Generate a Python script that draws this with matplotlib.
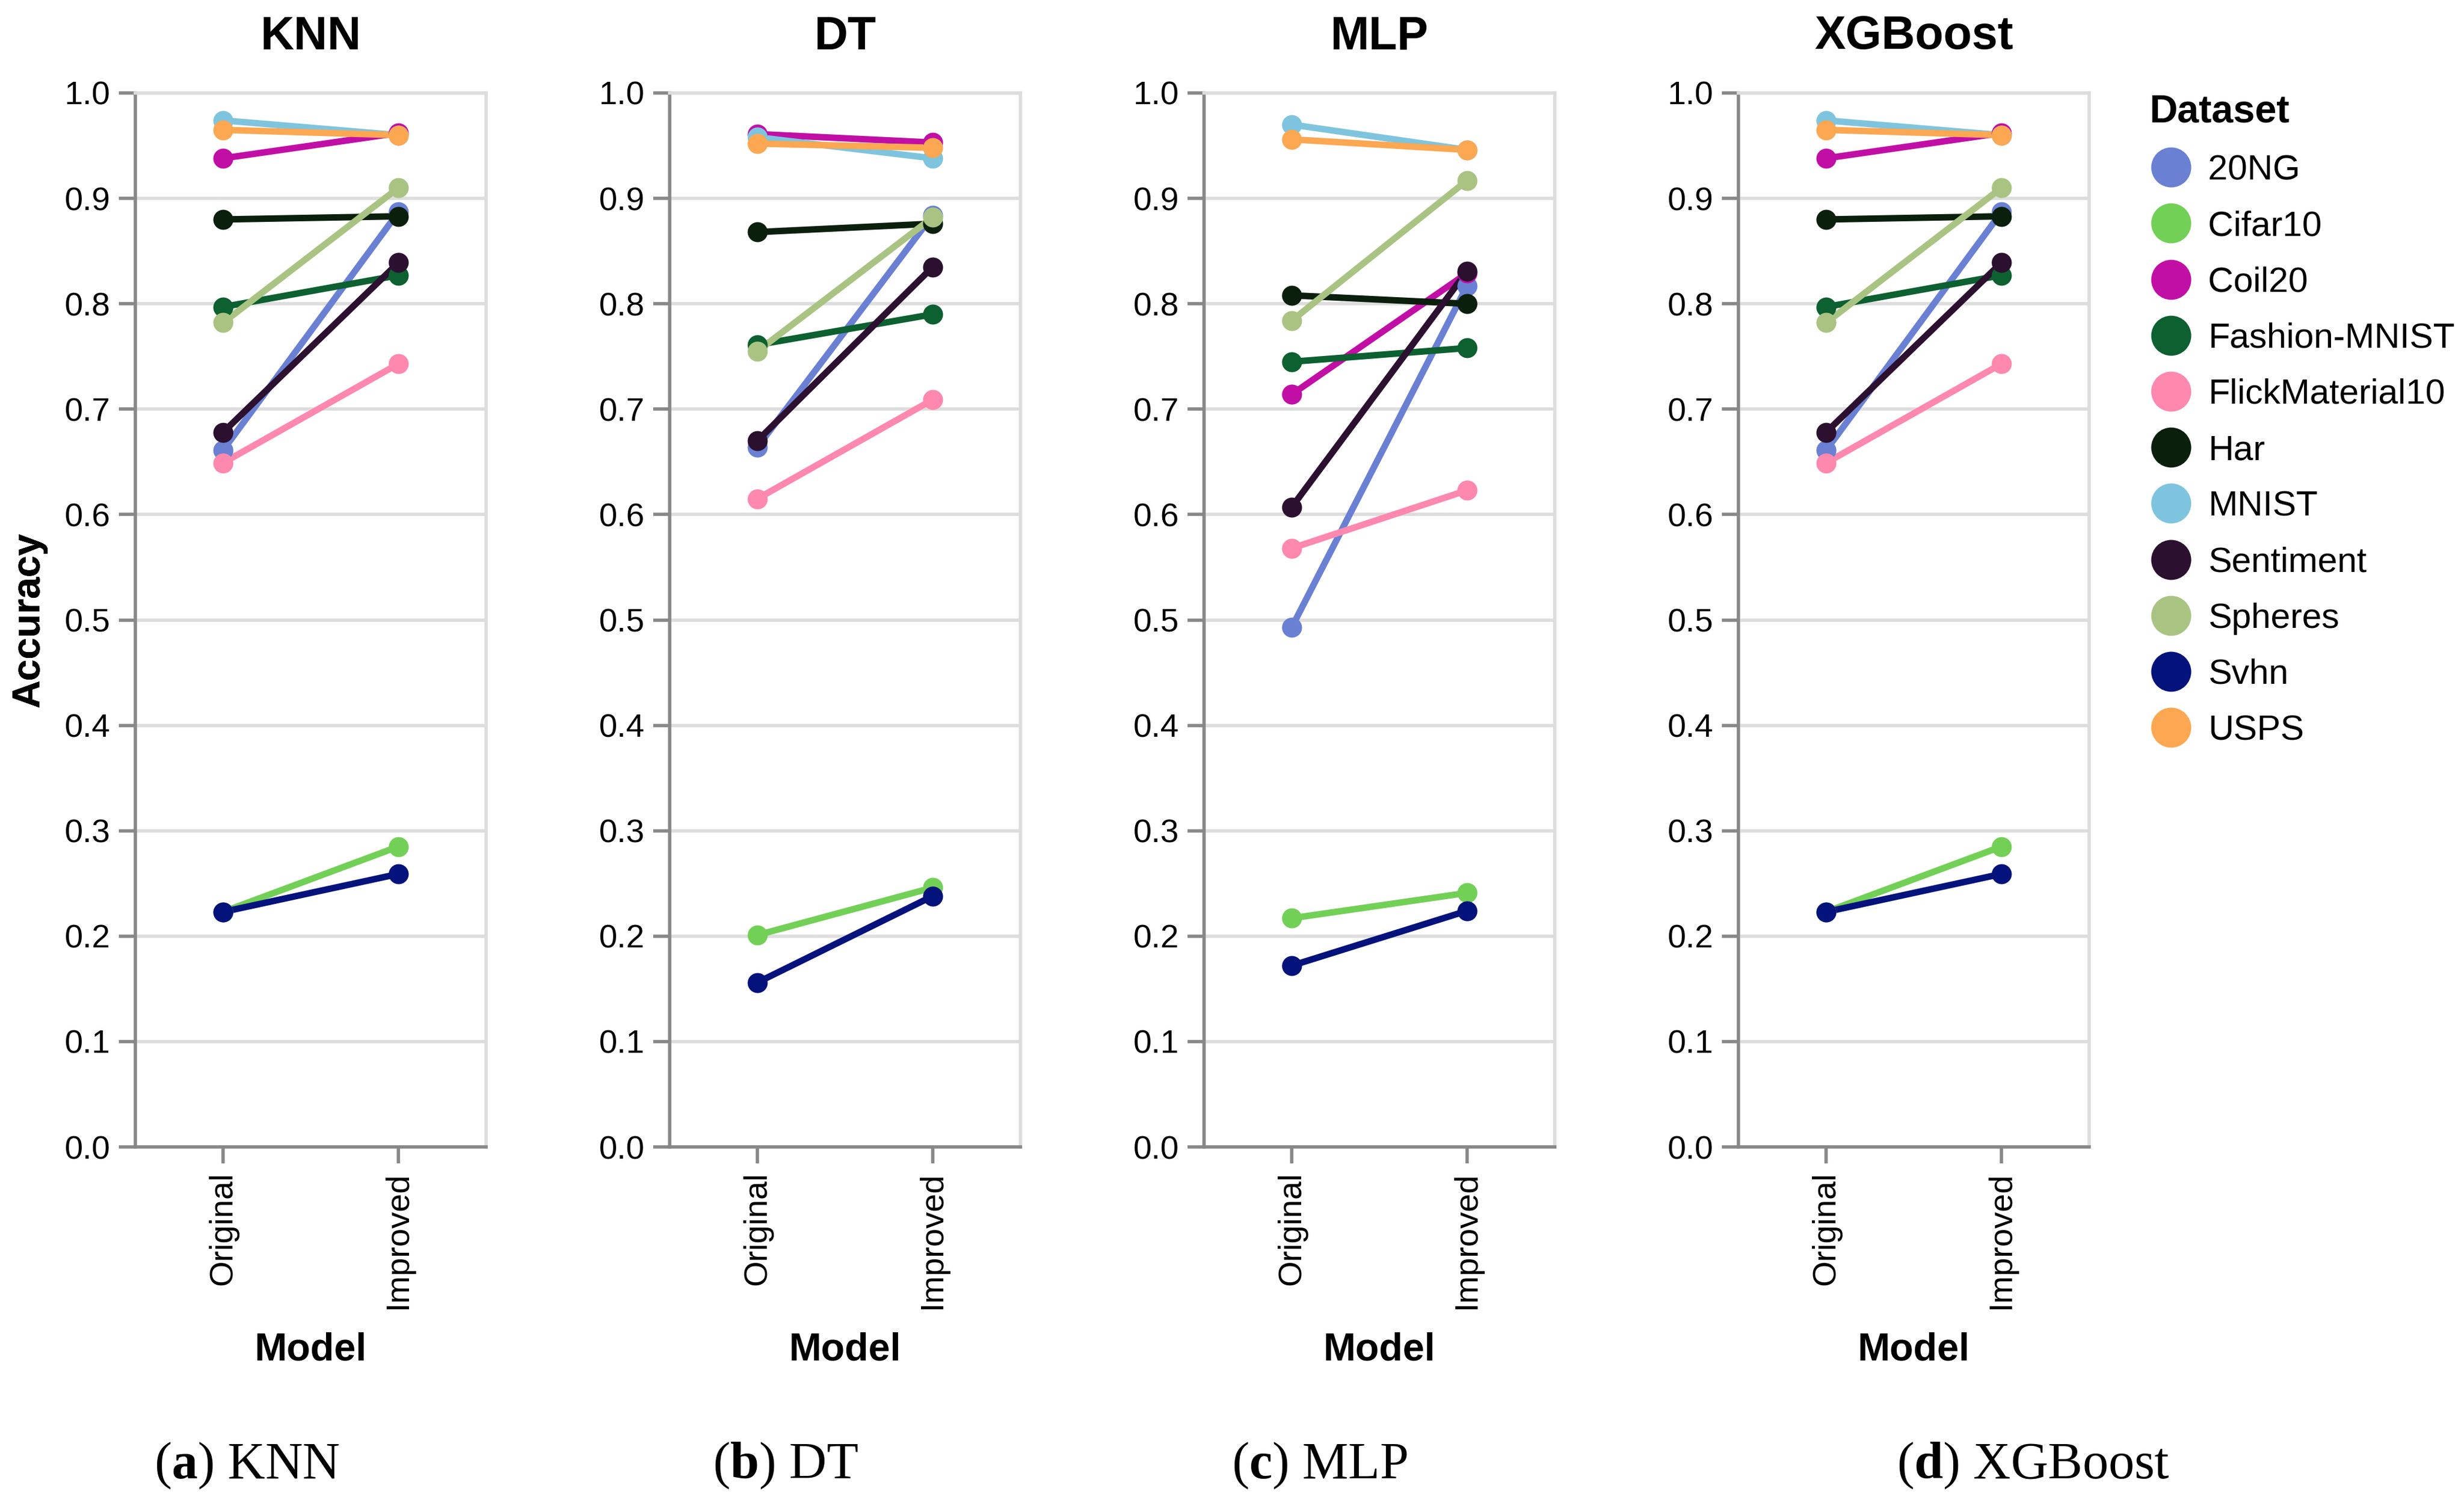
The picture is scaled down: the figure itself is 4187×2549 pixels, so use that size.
import numpy as np
import matplotlib
matplotlib.use("Agg")
import matplotlib.pyplot as plt
from matplotlib.lines import Line2D

datasets = ["20NG", "Cifar10", "Coil20", "Fashion-MNIST", "FlickMaterial10",
            "Har", "MNIST", "Sentiment", "Spheres", "Svhn", "USPS"]
colors = ["#6a80d3", "#73d057", "#c10fa6", "#0d6030", "#fe88ae",
          "#0b1f0d", "#7fc4de", "#2c102f", "#a9c482", "#04127c", "#fca752"]
models = ["Original", "Improved"]
panels = ["KNN", "DT", "MLP", "XGBoost"]
caption_letters = ["a", "b", "c", "d"]

# accuracy per dataset (same order as datasets)
knn_original = [0.661, 0.223, 0.938, 0.797, 0.649, 0.880, 0.974, 0.678, 0.782, 0.223, 0.965]
knn_improved = [0.887, 0.285, 0.962, 0.827, 0.743, 0.883, 0.960, 0.839, 0.910, 0.259, 0.960]
dt_original = [0.664, 0.201, 0.961, 0.761, 0.615, 0.868, 0.958, 0.670, 0.755, 0.156, 0.952]
dt_improved = [0.884, 0.246, 0.953, 0.790, 0.709, 0.876, 0.938, 0.835, 0.882, 0.238, 0.948]
mlp_original = [0.493, 0.217, 0.714, 0.745, 0.568, 0.808, 0.970, 0.607, 0.784, 0.172, 0.956]
mlp_improved = [0.817, 0.241, 0.829, 0.758, 0.623, 0.800, 0.946, 0.831, 0.917, 0.224, 0.946]
xgb_original = [0.661, 0.223, 0.938, 0.797, 0.649, 0.880, 0.974, 0.678, 0.782, 0.223, 0.965]
xgb_improved = [0.887, 0.285, 0.962, 0.827, 0.743, 0.883, 0.960, 0.839, 0.910, 0.259, 0.960]

originals = [knn_original, dt_original, mlp_original, xgb_original]
improveds = [knn_improved, dt_improved, mlp_improved, xgb_improved]

W, H = 4187, 2549
DPI = 72

plt.rcParams["font.family"] = ["Liberation Sans", "DejaVu Sans"]
plt.rcParams["mathtext.fontset"] = "custom"
plt.rcParams["mathtext.rm"] = "Liberation Serif"
plt.rcParams["mathtext.bf"] = "Liberation Serif:bold"

axis_grey = "#888888"
grid_grey = "#dddddd"


def px_box(left, top, right, bottom):
    return [left / W, 1 - bottom / H, (right - left) / W, (bottom - top) / H]


fig = plt.figure(figsize=(W / DPI, H / DPI), dpi=DPI)

ticks = np.round(np.arange(0, 1.01, 0.1), 1)
ax_top, ax_bottom = 158, 1949
ax_h = ax_bottom - ax_top

for i, (name, orig, impr) in enumerate(zip(panels, originals, improveds)):
    left = 230 + i * 908
    ax = fig.add_axes(px_box(left, ax_top, left + 596, ax_bottom))
    x = np.arange(len(models))

    # lines first, then all points on top
    for k in range(len(datasets)):
        ax.plot(x, [orig[k], impr[k]], color=colors[k], lw=11, zorder=2)
    for k in range(len(datasets)):
        ax.plot(x, [orig[k], impr[k]], ls="none", marker="o", ms=34, mew=0,
                color=colors[k], zorder=3, clip_on=False)

    ax.set_xlim(-0.5, 1.5)
    ax.set_ylim(0, 1)
    ax.set_yticks(ticks, [f"{t:.1f}" for t in ticks])
    ax.set_xticks(x, models, rotation=90)
    ax.grid(axis="y", color=grid_grey, lw=5.6)
    ax.set_axisbelow(True)

    for side in ["left", "bottom"]:
        ax.spines[side].set_color(axis_grey)
        ax.spines[side].set_linewidth(5.6)
    for side in ["top", "right"]:
        ax.spines[side].set_color(grid_grey)
        ax.spines[side].set_linewidth(5.6)

    ax.tick_params(length=28, width=5.6, color=axis_grey, labelsize=56, pad=14)

    ax.set_title(name, fontsize=79, fontweight="bold", pad=0,
                 y=(ax_bottom - 63) / ax_h, va="center")
    ax.set_xlabel("Model", fontsize=66, fontweight="bold", va="center")
    ax.xaxis.set_label_coords(0.5, (ax_bottom - 2294) / ax_h)
    ax.set_ylabel("Accuracy", fontsize=66, fontweight="bold", va="center")
    ax.yaxis.set_label_coords((49 - left) / 596, 0.5)

# legend
handles = [Line2D([], [], ls="none", marker="o", ms=68, mew=0, color=c) for c in colors]
fig.legend(handles, datasets, loc="upper left",
           bbox_to_anchor=(3653 / W, 1 - 160 / H),
           frameon=False, title="Dataset",
           title_fontproperties={"weight": "bold", "size": 66},
           fontsize=60, alignment="left", borderpad=0, borderaxespad=0,
           handlelength=1.2, handletextpad=0.45, labelspacing=0.67)

# sub-figure captions
caption_x = [420, 1335, 2243, 3455]
for cx, letter, name in zip(caption_x, caption_letters, panels):
    fig.text(cx / W, 1 - 2491 / H, rf"($\mathbf{{{letter}}}$) {name}",
             fontsize=88, ha="center", va="center", family="Liberation Serif")

fig.savefig("out.png", dpi=DPI, facecolor="white")
